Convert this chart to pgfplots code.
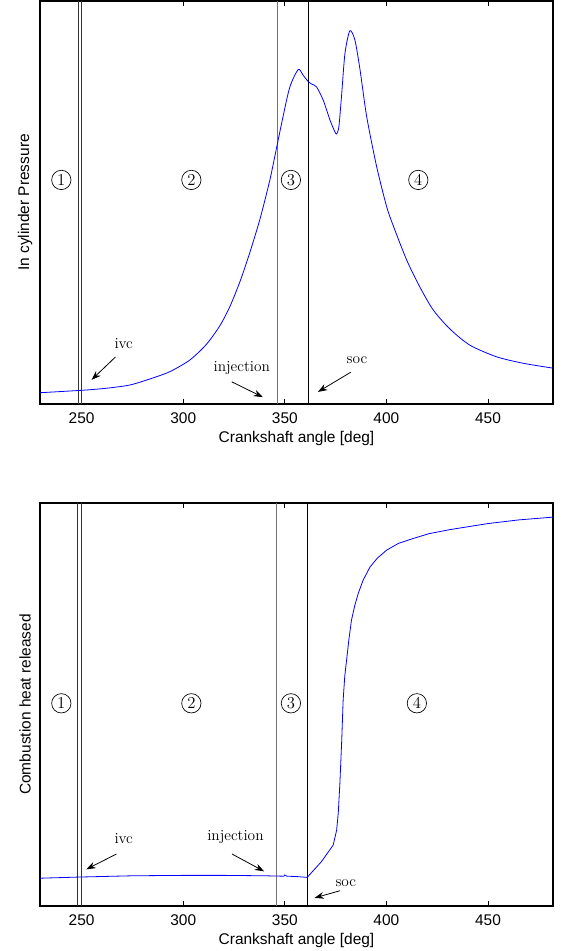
\documentclass[border=0pt]{standalone}
\usepackage{fontspec}
\setsansfont{Liberation Sans}
\usepackage{pgfplots}
\pgfplotsset{compat=1.18}
\usetikzlibrary{arrows.meta}

\pgfplotsset{
  crank/.style={
    scale only axis, width=384.75pt, height=302.25pt,
    xmin=229.5, xmax=482, ymin=0, ymax=100,
    xtick={250,300,350,400,450}, ytick=\empty,
    tick align=inside, xtick pos=both,
    major tick length=3.5pt,
    axis line style={line width=0.9pt},
    every tick/.style={line width=0.5pt, black},
    font=\sffamily\fontsize{11.6}{14}\selectfont,
    /pgf/number format/assume math mode=true,
    xticklabel style={yshift=-3pt},
    xlabel={Crankshaft angle [deg]},
    xlabel style={at={(axis description cs:0.5,0)}, anchor=center, yshift=-26pt},
    ylabel style={at={(axis description cs:-0.029,0.5)}, anchor=center},
  },
}
\tikzset{
  zone/.style={circle, draw, line width=0.5pt, inner sep=0pt, minimum size=14.5pt,
    font=\rmfamily\fontsize{12.5}{14}\selectfont},
  note/.style={font=\rmfamily\fontsize{11.5}{13}\selectfont},
  pointer/.style={-{Stealth[length=7pt,width=5pt]}, line width=0.6pt},
}

\begin{document}
\begin{tikzpicture}
\useasboundingbox (-30pt,-410.25pt) rectangle (393.75pt,303pt);

% in-cylinder pressure
\begin{axis}[crank, at={(0pt,0pt)}, anchor=south west,
  ylabel={In cylinder Pressure}]
  \addplot[black!80, line width=0.5pt, forget plot] coordinates {(248.4,0) (248.4,100)};
  \addplot[black!80, line width=0.5pt, forget plot] coordinates {(250,0) (250,100)};
  \addplot[black!55, line width=1.2pt, forget plot] coordinates {(346.4,0) (346.4,100)};
  \addplot[black, line width=0.6pt, forget plot] coordinates {(361.5,0) (361.5,100)};
  \addplot[blue, line width=0.6pt, smooth, tension=0.45] coordinates {
    (229.5,2.8) (250,3.4) (262,3.9) (273.6,4.7) (283.5,6.2) (293.3,8.0) (303.2,10.9)
    (311.4,14.8) (318,19.4) (322.9,24.1) (327.8,30.2) (331.1,35.0) (334.1,39.7)
    (338,46.3) (342.6,55.5) (345.1,61.5) (349.2,71.5) (352.5,78.7) (356.6,83) (359,81.6)
    (361.5,80) (363.1,79.4) (365.6,78.7) (368.9,75.4) (372.2,70.5) (374.6,67.6)
    (375.5,67) (376.6,68.8) (377.9,76.3) (379.6,87) (382,92.6) (384.5,90.3) (387,83)
    (390.3,71.3) (395.2,58.9) (400.1,49) (403.4,44.2) (410,35.7) (416.5,29.0)
    (423.1,23.3) (431.3,18.6) (441.1,14.6) (454.3,11.7) (467.4,10.1) (482,8.9)
  };
  \node[zone] at (axis cs:240,55.6) {1};
  \node[zone] at (axis cs:304,55.6) {2};
  \node[zone] at (axis cs:353,55.6) {3};
  \node[zone] at (axis cs:415.7,55.6) {4};
  \node[note] at (axis cs:270.7,15.1) {ivc};
  \draw[pointer] (axis cs:266.7,11.7) -- (axis cs:254.9,6.0);
  \node[note] at (axis cs:328.8,8.9) {injection};
  \draw[pointer] (axis cs:323.9,5.5) -- (axis cs:339.2,1.7);
  \node[note] at (axis cs:385.5,10.9) {soc};
  \draw[pointer] (axis cs:382.5,7.9) -- (axis cs:366.3,3.0);
\end{axis}

% combustion heat released
\begin{axis}[crank, at={(0pt,-376.5pt)}, anchor=south west,
  ylabel={Combustion heat released}]
  \addplot[black!80, line width=0.5pt, forget plot] coordinates {(248.1,0) (248.1,100)};
  \addplot[black!80, line width=0.5pt, forget plot] coordinates {(249.8,0) (249.8,100)};
  \addplot[black!55, line width=1.2pt, forget plot] coordinates {(345.9,0) (345.9,100)};
  \addplot[black, line width=0.6pt, forget plot] coordinates {(361,0) (361,100)};
  \addplot[blue, line width=0.6pt] coordinates {
    (229.5,6.9) (250,7.2) (275,7.5) (300,7.6) (320,7.6) (340,7.5) (349.5,7.4)
    (350,7.7) (351,7.4) (356,7.3) (361,7.1) (368,11) (373.8,15.1) (375.5,18.8)
    (376.3,23) (377.1,30.4) (378,41) (378.7,51) (379.5,57) (380.4,61) (381.5,66)
    (382.8,70.9) (384.4,74.5) (386.1,77.5) (388.5,80.8) (391.9,84.1) (395.5,86.3)
    (400.1,88.3) (406,90) (413.2,91.2) (421,92.4) (431.3,93.4) (450,94.9)
    (465,95.8) (482,96.5)
  };
  \node[zone] at (axis cs:240,50.3) {1};
  \node[zone] at (axis cs:304,50.3) {2};
  \node[zone] at (axis cs:353,50.3) {3};
  \node[zone] at (axis cs:415,50.3) {4};
  \node[note] at (axis cs:270.7,16.7) {ivc};
  \draw[pointer] (axis cs:267.1,12.9) -- (axis cs:252.3,9.1);
  \node[note] at (axis cs:325.7,17.1) {injection};
  \draw[pointer] (axis cs:324,12.9) -- (axis cs:339.8,8.6);
  \node[note] at (axis cs:380,5.7) {soc};
  \draw[pointer] (axis cs:377.2,3.8) -- (axis cs:364.6,2.0);
\end{axis}
\end{tikzpicture}
\end{document}
